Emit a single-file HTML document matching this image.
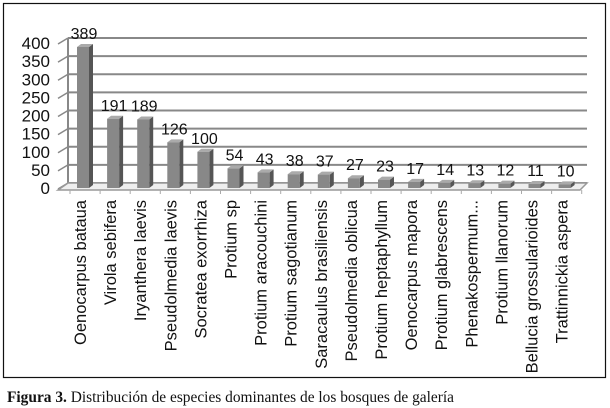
<!DOCTYPE html>
<html><head><meta charset="utf-8"><style>
body{margin:0;background:#fff;width:610px;height:408px;overflow:hidden}
svg{display:block}
</style></head><body>
<svg width="610" height="408" font-family="'Liberation Sans','DejaVu Sans',sans-serif">
<rect x="3.5" y="3.5" width="602" height="374" fill="#fff" stroke="#111" stroke-width="1.2"/>
<g id="grid"></g>
<g id="yax"></g>
<g id="bars"></g>
<g id="xl"></g>
<text x="7" y="402" font-family="'Liberation Serif',serif" font-size="15.5" fill="#111" textLength="447" lengthAdjust="spacingAndGlyphs"><tspan font-weight="bold">Figura 3.</tspan> Distribución de especies dominantes de los bosques de galería</text>
</svg>
<script>
const categories=["Oenocarpus bataua","Virola sebifera","Iryanthera laevis","Pseudolmedia laevis","Socratea exorrhiza","Protium sp","Protium aracouchini","Protium sagotianum","Saracaulus brasiliensis","Pseudolmedia oblicua","Protium heptaphyllum","Oenocarpus mapora","Protium glabrescens","Phenakospermum...","Protium llanorum","Bellucia grossularioides","Trattinnickia aspera"];
const values=[389,191,189,126,100,54,43,38,37,27,23,17,14,13,12,11,10];
const yTicks=[0,50,100,150,200,250,300,350,400];
const NS="http://www.w3.org/2000/svg";
const y0=188,yTop=43,dx=5,dy=5;
function yScale(v){return y0-(v/400)*(y0-yTop);}
function xScale(i){return 80+i*30.1;}
function mk(tag,attrs,parent){const e=document.createElementNS(NS,tag);for(const k in attrs)e.setAttribute(k,attrs[k]);parent.appendChild(e);return e;}
const grid=document.getElementById('grid'),yax=document.getElementById('yax'),bars=document.getElementById('bars'),xl=document.getElementById('xl');
yTicks.forEach(t=>{
  const y=yScale(t);
  const l=mk('line',{x1:63+dx,y1:y-dy,x2:587,y2:y-dy,stroke:'#888','stroke-width':2},grid);
  
  
  const d=mk('line',{x1:58,y1:y+1,x2:63+dx,y2:y-dy,stroke:'#888','stroke-width':1.5},grid);
  
  
  const tx=mk('text',{x:50,y:y+6,'text-anchor':'end','font-size':17,fill:'#111'},yax);
  tx.textContent=t;
  
  
});
mk('line',{x1:63+dx,y1:yScale(400)-dy,x2:63+dx,y2:y0-dy,stroke:'#888','stroke-width':2},grid);
mk('polygon',{points:`58,${y0+2} ${63+dx},${y0-dy} 587,${y0-dy} 580,${y0+2}`,fill:'#eee',stroke:'#999','stroke-width':1.5},grid);
for(let i=0;i<=categories.length;i++){const x=xScale(i)-15;mk('line',{x1:x+5,y1:y0+2,x2:x+5,y2:y0+6,stroke:'#aaa'},grid);}
values.forEach((v,i)=>{
  const x=xScale(i)-3,w=12,yt=yScale(v);
  const g=mk('g',{},bars);
  
  
  mk('polygon',{points:`${x+w},${yt} ${x+w+4},${yt-3} ${x+w+4},${y0-3} ${x+w},${y0}`,fill:'#555'},g);
  mk('polygon',{points:`${x},${yt} ${x+4},${yt-3} ${x+w+4},${yt-3} ${x+w},${yt}`,fill:'#aaa'},g);
  mk('rect',{x:x,y:yt,width:w,height:y0-yt,fill:'#888'},g);
  const lb=mk('text',{x:x+7,y:yt-8,'text-anchor':'middle','font-size':16,fill:'#111'},bars);
  lb.textContent=v;
  
  
});
categories.forEach((c,i)=>{
  const x=xScale(i)+6;
  const t=mk('text',{x:0,y:0,transform:`translate(${x},200) rotate(-90)`,'text-anchor':'end','font-size':16.5,fill:'#111'},xl);
  t.textContent=c;
  
  
});
</script>
</body></html>
